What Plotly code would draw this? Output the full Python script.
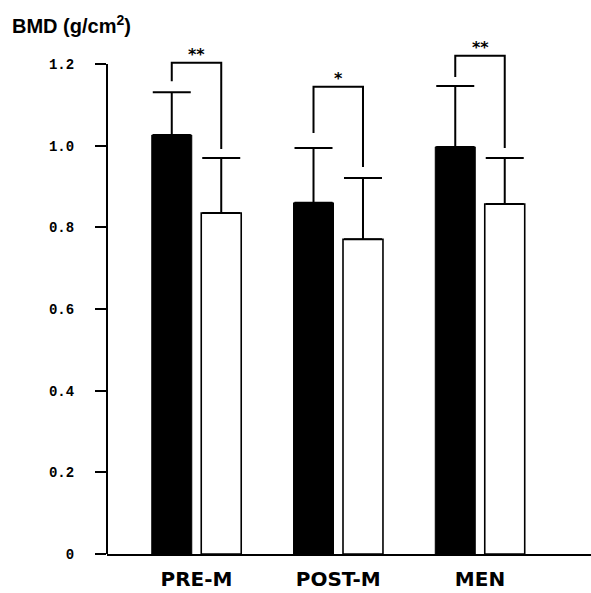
import plotly.graph_objects as go

categories = ["PRE-M", "POST-M", "MEN"]
group_a_mean = [1.026, 0.860, 0.997]   # black bars
group_a_sd = [0.105, 0.134, 0.149]
group_b_mean = [0.835, 0.771, 0.857]   # white bars
group_b_sd = [0.135, 0.150, 0.113]
significance = ["**", "*", "**"]
bracket_top = [1.203, 1.144, 1.220]
bracket_left_bottom = [1.158, 1.031, 1.168]
bracket_right_bottom = [0.992, 0.948, 0.994]
y_ticks = [0, 0.2, 0.4, 0.6, 0.8, 1.0, 1.2]
y_tick_labels = ["0", "0.2", "0.4", "0.6", "0.8", "1.0", "1.2"]

W, H = 591, 593
ML, MR, MT, MB = 107, 0, 44, 39
px_per_unit = 408.33
plot_h = H - MT - MB
ymax = plot_h / px_per_unit

cat_px = 141.75
plot_w = W - ML - MR
x0 = -89.5 / cat_px
x1 = x0 + plot_w / cat_px
half_sep = 0.349 / 2

fig = go.Figure()
fig.add_trace(go.Bar(
    x=categories, y=group_a_mean,
    marker=dict(color="black", line=dict(color="black", width=1)),
    error_y=dict(type="data", symmetric=False, array=group_a_sd,
                 arrayminus=[0] * 3, color="black", thickness=2, width=19),
    showlegend=False,
))
fig.add_trace(go.Bar(
    x=categories, y=group_b_mean,
    marker=dict(color="white", line=dict(color="black", width=1.6)),
    error_y=dict(type="data", symmetric=False, array=group_b_sd,
                 arrayminus=[0] * 3, color="black", thickness=2, width=19),
    showlegend=False,
))

shapes = []
# y axis line from 0 to 1.2
shapes.append(dict(type="line", xref="paper", yref="y", x0=0, x1=0,
                   y0=0, y1=y_ticks[-1], line=dict(color="black", width=2)))
for i in range(len(categories)):
    xl = i - half_sep
    xr = i + half_sep
    path = (f"M {xl},{bracket_left_bottom[i]} L {xl},{bracket_top[i]} "
            f"L {xr},{bracket_top[i]} L {xr},{bracket_right_bottom[i]}")
    shapes.append(dict(type="path", xref="x", yref="y", path=path,
                       line=dict(color="black", width=2)))

annotations = []
for i, s in enumerate(significance):
    annotations.append(dict(x=i, y=bracket_top[i], xref="x", yref="y",
                            text=f"<b>{s}</b>", showarrow=False,
                            yanchor="bottom", yshift=-3,
                            font=dict(family="DejaVu Sans", size=16, color="black")))
annotations.append(dict(x=-97 / plot_w, y=1 + (MT - 25) / plot_h,
                        xref="paper", yref="paper", xanchor="left", yanchor="middle",
                        text="<b>BMD (g/cm<sup>2</sup>)</b>", showarrow=False,
                        font=dict(family="Liberation Sans", size=20, color="black")))

fig.update_layout(
    width=W, height=H,
    margin=dict(l=ML, r=MR, t=MT, b=MB, pad=0, autoexpand=False),
    paper_bgcolor="white", plot_bgcolor="white",
    barmode="group", bargap=0.302, bargroupgap=0.192,
    shapes=shapes, annotations=annotations,
    xaxis=dict(range=[x0, x1], showgrid=False, zeroline=False, automargin=False,
               showline=True, linecolor="black", linewidth=2,
               ticks="", ticklabelstandoff=6,
               tickfont=dict(family="DejaVu Sans", size=20, color="black"),
               tickprefix="<b>", ticksuffix="</b>"),
    yaxis=dict(range=[0, ymax], showgrid=False, zeroline=False, showline=False,
               automargin=False,
               tickvals=y_ticks, ticktext=[f"<b>{t}</b>" for t in y_tick_labels],
               ticks="outside", ticklen=11, tickwidth=1.5, tickcolor="black",
               ticklabelstandoff=18,
               tickfont=dict(family="Liberation Mono", size=14, color="black")),
)

fig.write_html(
    "out.html",
    config={"displayModeBar": False},
    post_script="document.body.style.margin='0px';document.body.style.overflow='hidden';",
)
